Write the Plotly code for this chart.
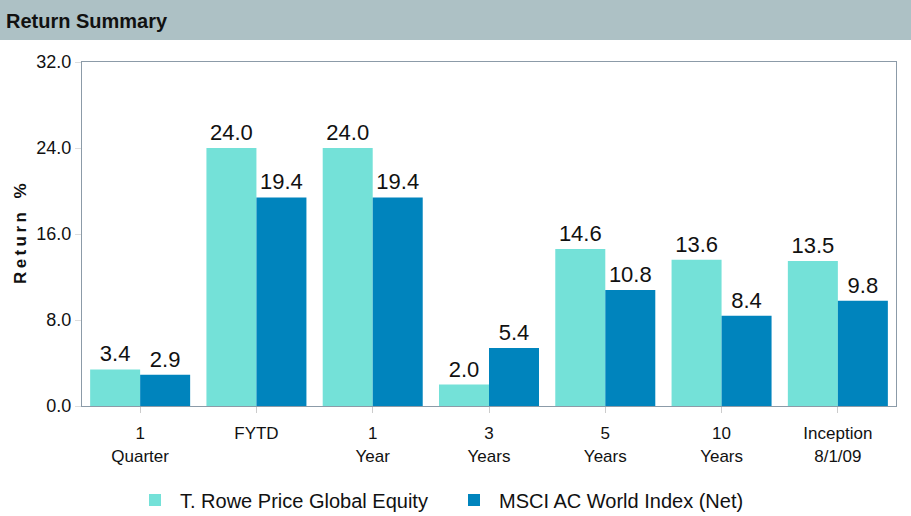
import plotly.graph_objects as go

categories = ["1<br>Quarter", "FYTD", "1<br>Year", "3<br>Years", "5<br>Years", "10<br>Years", "Inception<br>8/1/09"]
fund_name = "T. Rowe Price Global Equity"
index_name = "MSCI AC World Index (Net)"
fund_returns = [3.4, 24.0, 24.0, 2.0, 14.6, 13.6, 13.5]
index_returns = [2.9, 19.4, 19.4, 5.4, 10.8, 8.4, 9.8]
y_ticks = [0, 8, 16, 24, 32]

W, H = 911, 516
ML, MR, MT, MB = 82, 15, 62, 110
pw, ph = W - ML - MR, H - MT - MB

font_main = "Liberation Sans, Arial, Helvetica"

fig = go.Figure()
fig.add_trace(go.Bar(
    x=categories, y=fund_returns, name=fund_name,
    marker=dict(color="#74e1d8", line=dict(width=0)),
    text=[f"{v:.1f}" for v in fund_returns], textposition="outside",
    textfont=dict(family=font_main, size=22, color="#111111"), cliponaxis=False,
))
fig.add_trace(go.Bar(
    x=categories, y=index_returns, name=index_name,
    marker=dict(color="#0084bd", line=dict(width=0)),
    text=[f"{v:.1f}" for v in index_returns], textposition="outside",
    textfont=dict(family=font_main, size=22, color="#111111"), cliponaxis=False,
))

# header band across the full width
fig.add_shape(type="rect", xref="paper", yref="paper",
              x0=-ML / pw, x1=1 + MR / pw, y0=1 + (MT - 40) / ph, y1=1 + MT / ph,
              fillcolor="#adc1c5", line=dict(width=0), layer="below")
fig.add_annotation(text="<b>Return Summary</b>", xref="paper", yref="paper",
                   x=-ML / pw + 4 / pw, y=1 + (MT - 21) / ph, xanchor="left", yanchor="middle",
                   showarrow=False, font=dict(family=font_main, size=20, color="#111111"))

# y-axis title, letter-spaced with thin spaces
ytitle = "\u2009".join("Return") + "\u2009\u2009\u2009\u2009%"
fig.add_annotation(text=f"<b>{ytitle}</b>", xref="paper", yref="paper",
                   x=-(ML - 20) / pw, y=0.5 + 1 / ph, xanchor="center", yanchor="middle",
                   textangle=-90, showarrow=False,
                   font=dict(family=font_main, size=17, color="#111111"))

fig.update_layout(
    width=W, height=H,
    margin=dict(l=ML, r=MR, t=MT, b=MB, autoexpand=False),
    paper_bgcolor="white", plot_bgcolor="white",
    barmode="group", bargap=0.14, bargroupgap=0,
    showlegend=True,
    legend=dict(orientation="h", x=(130 - ML) / pw, xanchor="left",
                y=-(500 - (H - MB)) / ph, yanchor="middle",
                font=dict(family=font_main, size=20, color="#111111"),
                itemwidth=40, entrywidth=264,
                traceorder="normal"),
    xaxis=dict(showline=True, linecolor="#8c9ba8", linewidth=1, mirror=True,
               ticks="outside", ticklen=6, tickcolor="#cccccc",
               ticklabelstandoff=6,
               tickfont=dict(family=font_main, size=17, color="#111111"),
               showgrid=False, automargin=False),
    yaxis=dict(range=[0, 32], tickvals=y_ticks, ticktext=[f"{v:.1f}" for v in y_ticks],
               showline=True, linecolor="#8c9ba8", linewidth=1, mirror=True,
               ticks="outside", ticklen=6, tickcolor="#dddddd",
               tickfont=dict(family=font_main, size=18, color="#111111"),
               showgrid=False, zeroline=False, automargin=False),
)

fig.write_html("out.html")
